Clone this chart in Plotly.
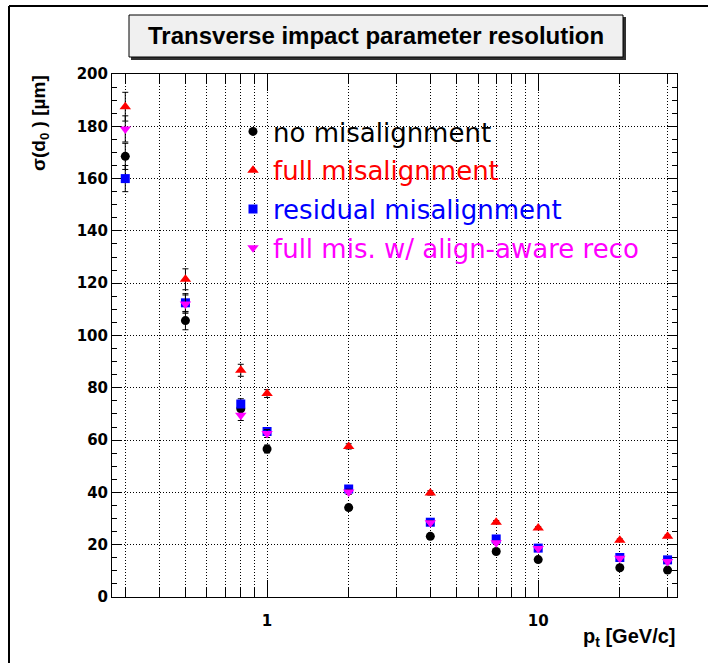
import plotly.graph_objects as go
import math

# ---- data ----
pt = [0.3, 0.5, 0.8, 1, 2, 4, 7, 10, 20, 30]
no_mis = [168.5, 105.7, 72.0, 56.6, 34.2, 23.2, 17.4, 14.3, 11.2, 10.3]
no_mis_err = [5.0, 3.5, 2.0, 1.5, 1.0, 0.8, 0.6, 0.5, 0.5, 0.5]
full_mis = [187.5, 121.5, 86.7, 77.8, 57.6, 39.8, 28.6, 26.4, 21.7, 23.2]
full_mis_err = [5.5, 4.0, 2.3, 1.5, 1.0, 0.8, 0.6, 0.5, 0.5, 0.5]
resid_mis = [160.0, 112.5, 73.8, 63.3, 41.3, 28.6, 22.2, 18.7, 15.1, 14.2]
resid_mis_err = [5.0, 3.5, 2.0, 1.5, 1.0, 0.8, 0.6, 0.5, 0.5, 0.5]
aware_reco = [179.0, 112.0, 69.5, 62.5, 40.2, 28.4, 20.7, 18.5, 14.8, 13.6]
aware_reco_err = [5.0, 3.5, 2.0, 1.5, 1.0, 0.8, 0.6, 0.5, 0.5, 0.5]

series_names = ["no misalignment", "full misalignment", "residual misalignment",
                "full mis. w/ align-aware reco"]
series_colors = ["#000000", "#ff0000", "#0000ff", "#ff00ff"]
series_symbols = ["circle", "triangle-up", "square", "triangle-down"]
series_sizes = [9, 10, 9, 10]
series_vals = [no_mis, full_mis, resid_mis, aware_reco]
series_errs = [no_mis_err, full_mis_err, resid_mis_err, aware_reco_err]

x_tickvals = [0.3, 0.4, 0.5, 0.6, 0.7, 0.8, 0.9, 1, 2, 3, 4, 5, 6, 7, 8, 9, 10, 20, 30]
x_ticktext = ["1" if v == 1 else ("10" if v == 10 else "") for v in x_tickvals]
x_major = [1, 10]
title_text = "Transverse impact parameter resolution"
x_title = "p<sub>t</sub> [GeV/c]"
y_title = "σ(d<sub>0</sub> ) [µm]"

# ---- layout geometry (pixels) ----
W, H = 708, 663
L, R, T, B = 112, 677, 74, 597
pw, ph = R - L, B - T
def px(x): return (x - L) / pw
def py(y): return (B - y) / ph

fig = go.Figure()
for i in range(4):
    fig.add_trace(go.Scatter(
        x=pt, y=series_vals[i], mode="markers",
        name='<span style="color:%s">%s</span>' % (series_colors[i], series_names[i]),
        legendgroup="g%d" % i,
        marker=dict(symbol=series_symbols[i], size=series_sizes[i],
                    color=series_colors[i], line=dict(width=0)),
        error_y=dict(type="data", array=series_errs[i], color="#000000",
                     thickness=1, width=3),
    ))
fig.add_trace(go.Scatter(x=[], y=[], xaxis="x2", showlegend=False, hoverinfo="skip"))

xr = [math.log10(0.268), math.log10(32.5)]
tickfont = dict(family="DejaVu Sans", size=15, color="#000", weight="bold")
fig.update_layout(
    width=W, height=H,
    margin=dict(l=L, r=W - R, t=T, b=H - B, pad=0),
    paper_bgcolor="white", plot_bgcolor="white",
    showlegend=True,
    legend=dict(x=px(233), y=py(108), xanchor="left", yanchor="top",
                bgcolor="rgba(0,0,0,0)", borderwidth=0,
                font=dict(family="DejaVu Sans", size=26, color="#000"),
                tracegroupgap=2, itemsizing="trace"),
    xaxis=dict(type="log", range=xr, tickvals=x_tickvals, ticktext=x_ticktext,
               ticks="inside", ticklen=9, tickwidth=1, tickcolor="#000",
               showline=True, linecolor="#000", linewidth=1, mirror="ticks",
               showgrid=True, gridcolor="#000", gridwidth=1, griddash="1px,2px",
               zeroline=False, tickfont=tickfont, ticklabelstandoff=10),
    xaxis2=dict(type="log", range=xr, overlaying="x", anchor="y", side="bottom",
                tickvals=x_major, ticks="inside", ticklen=17, tickwidth=1,
                tickcolor="#000", showticklabels=False, showgrid=False,
                showline=False, mirror="ticks", zeroline=False),
    yaxis=dict(range=[0, 200], tick0=0, dtick=20,
               ticks="inside", ticklen=9, tickwidth=1, tickcolor="#000",
               minor=dict(dtick=5, ticks="inside", ticklen=5, tickcolor="#000",
                          showgrid=False),
               showline=True, linecolor="#000", linewidth=1, mirror="ticks",
               showgrid=True, gridcolor="#000", gridwidth=1, griddash="1px,2px",
               zeroline=False, tickfont=tickfont),
)

# outer frame
fig.add_shape(type="line", xref="paper", yref="paper",
              x0=px(9), x1=px(9), y0=py(6), y1=py(670),
              line=dict(color="#000", width=2))
fig.add_shape(type="line", xref="paper", yref="paper",
              x0=px(9), x1=px(708), y0=py(6), y1=py(6),
              line=dict(color="#000", width=2))

# title box with shadow
fig.add_shape(type="rect", xref="paper", yref="paper",
              x0=px(131), x1=px(626), y0=py(60), y1=py(17),
              fillcolor="#303030", line=dict(width=0))
fig.add_shape(type="rect", xref="paper", yref="paper",
              x0=px(129), x1=px(623), y0=py(57), y1=py(15),
              fillcolor="#f0f0f0", line=dict(color="#000", width=1))
fig.add_annotation(xref="paper", yref="paper", x=px(376), y=py(36),
                   text=title_text, showarrow=False, xanchor="center", yanchor="middle",
                   font=dict(family="Liberation Sans", size=24, color="#000", weight="bold"))

# axis titles
fig.add_annotation(xref="paper", yref="paper", x=px(677), y=py(637),
                   text=x_title, showarrow=False, xanchor="right", yanchor="middle",
                   font=dict(family="Liberation Sans", size=20, color="#000", weight="bold"))
fig.add_annotation(xref="paper", yref="paper", x=px(40), y=py(73),
                   text=y_title, showarrow=False, textangle=-90,
                   xanchor="center", yanchor="top",
                   font=dict(family="Liberation Sans", size=19, color="#000", weight="bold"))

fig.write_html("out.html",
               post_script="document.documentElement.style.overflow='hidden';"
                           "document.body.style.overflow='hidden';")
